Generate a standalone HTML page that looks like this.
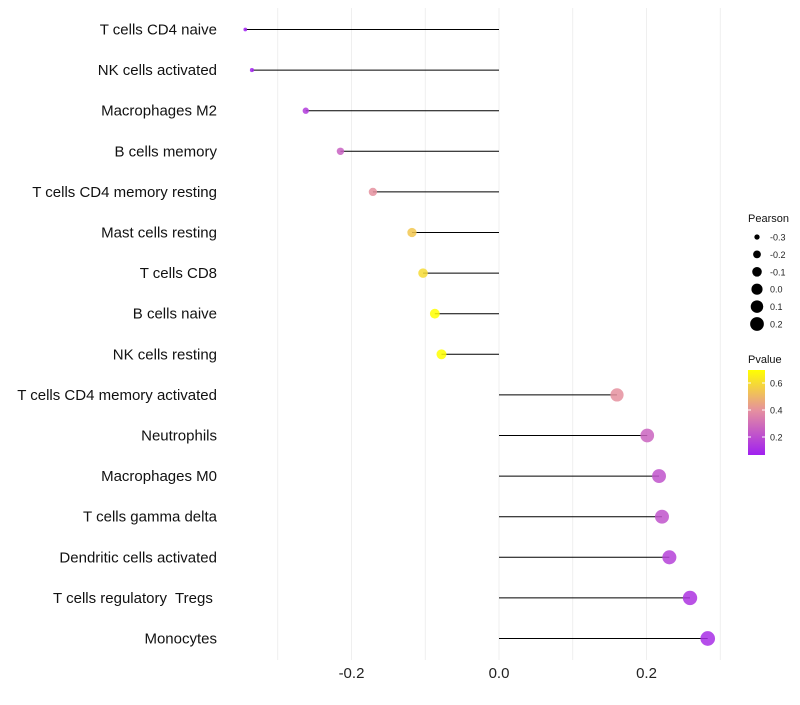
<!DOCTYPE html>
<html><head><meta charset="utf-8"><style>
body{margin:0;background:#fff;font-family:"Liberation Sans",sans-serif}
svg text{font-family:"Liberation Sans",sans-serif;white-space:pre}
</style></head><body>
<svg id="c" width="800" height="700"></svg>
<script>
const categories=["T cells CD4 naive","NK cells activated","Macrophages M2","B cells memory","T cells CD4 memory resting","Mast cells resting","T cells CD8","B cells naive","NK cells resting","T cells CD4 memory activated","Neutrophils","Macrophages M0","T cells gamma delta","Dendritic cells activated","T cells regulatory  Tregs ","Monocytes"];
const pearson=[-0.344,-0.335,-0.262,-0.215,-0.171,-0.118,-0.103,-0.087,-0.078,0.160,0.201,0.217,0.221,0.231,0.259,0.283];
const pvalue=[0.07,0.08,0.15,0.26,0.4,0.55,0.6,0.7,0.72,0.4,0.27,0.22,0.22,0.17,0.13,0.11];
const xTicks=[-0.2,0,0.2];
const sizeLegend=[-0.3,-0.2,-0.1,0.0,0.1,0.2];
const pTicks=[0.2,0.4,0.6];
const NS="http://www.w3.org/2000/svg",svg=document.getElementById('c');
function el(t,a,p){const e=document.createElementNS(NS,t);for(const k in a)e.setAttribute(k,a[k]);(p||svg).appendChild(e);return e;}
const X=v=>499+v*737.5, Y=i=>29.5+i*40.6;
const R=v=>Math.sqrt(3+80*Math.max(0,v+0.35));
const PY=p=>383+(0.6-p)*135;
function col(p){const t=Math.max(0,Math.min(1,(p-0.07)/0.63));
 const s=[[0,[160,32,240]],[0.52,[229,143,160]],[1,[255,255,0]]];
 let a=s[0],b=s[1];if(t>s[1][0]){a=s[1];b=s[2];}
 const u=(t-a[0])/(b[0]-a[0]);return 'rgb('+a[1].map((c,i)=>Math.round(c+(b[1][i]-c)*u)).join(',')+')';}
for(let v=-0.3;v<=0.31;v+=0.1){const g=el('line',{x1:X(v),x2:X(v),y1:8,y2:660,stroke:'#ebebeb','stroke-width':0.8});

}
xTicks.forEach(v=>{const t=el('text',{x:X(v),y:678,'text-anchor':'middle','font-size':15,fill:'#222'});t.textContent=v.toFixed(1);

});
categories.forEach((c,i)=>{
 const t=el('text',{x:217,y:Y(i)+5,'text-anchor':'end','font-size':15,fill:'#111'});t.textContent=c;
 
 
 const l=el('line',{x1:X(0),x2:X(pearson[i]),y1:Y(i),y2:Y(i),stroke:'#000','stroke-width':1});
 
 
 const d=el('circle',{cx:X(pearson[i]),cy:Y(i),r:R(pearson[i]),fill:col(pvalue[i]),'fill-opacity':0.85});
 
 
});
let t=el('text',{x:748,y:222,'font-size':11,fill:'#111'});t.textContent='Pearson';

sizeLegend.forEach((v,i)=>{const y=237+i*17.4;
 const c=el('circle',{cx:757,cy:y,r:R(v),fill:'#000'});
 
 const s=el('text',{x:770,y:y+3.5,'font-size':9,fill:'#222'});s.textContent=v.toFixed(1);
 });
t=el('text',{x:748,y:363,'font-size':11,fill:'#111'});t.textContent='Pvalue';

const defs=el('defs',{});const gr=el('linearGradient',{id:'g',x1:0,y1:1,x2:0,y2:0},defs);
[0,0.25,0.52,0.75,1].forEach(o=>el('stop',{offset:o,'stop-color':col(0.07+o*0.63)},gr));
const bar=el('rect',{x:748,y:370,width:17,height:85,fill:'url(#g)'});

pTicks.forEach(p=>{el('line',{x1:748,x2:751,y1:PY(p),y2:PY(p),stroke:'#fff'});el('line',{x1:762,x2:765,y1:PY(p),y2:PY(p),stroke:'#fff'});
 const s=el('text',{x:770,y:PY(p)+3.5,'font-size':9,fill:'#222'});s.textContent=p.toFixed(1);
 });
</script>
</body></html>
